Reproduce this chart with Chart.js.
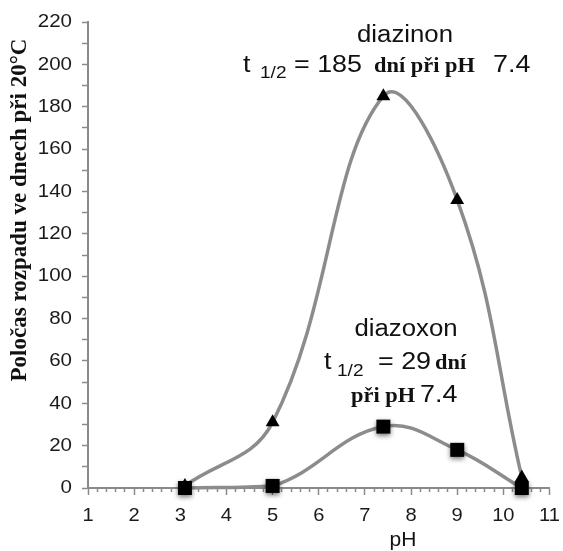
<!DOCTYPE html>
<html>
<head>
<meta charset="utf-8">
<script src="https://cdn.jsdelivr.net/npm/chart.js@4.4.1/dist/chart.umd.min.js"></script>
<style>
  html, body { margin: 0; padding: 0; background: #fff; }
  canvas { display: block; }
</style>
</head>
<body>
<canvas id="chart" width="563" height="551"></canvas>
<script>
// data
const phPoints = [3.1, 5, 7.4, 9, 10.4];
const diazinonDays = [1, 31, 185, 136, 5];
const diazoxonDays = [0, 1, 29, 18, 0];
const xTickLabels = [1, 2, 3, 4, 5, 6, 7, 8, 9, 10, 11];
const yTickLabels = [0, 20, 40, 60, 80, 100, 120, 140, 160, 180, 200, 220];

const AXIS_GREY = '#8a8a8a';
const LINE_GREY = '#8c8c8c';
const SANS = '"Liberation Sans", Arial, sans-serif';
const SERIF = '"Liberation Serif", "Times New Roman", serif';
const SX = 1.12; // the text in the picture is a bit wide

function toXY(xs, ys) {
    return xs.map(function (x, i) { return { x: x, y: ys[i] }; });
}

function isLabel(list, v) {
    return list.some(function (t) { return Math.abs(t - v) < 1e-6; });
}

// black square with a soft shadow, used as point style
function shadowSquare() {
    const c = document.createElement('canvas');
    c.width = 30;
    c.height = 30;
    const g = c.getContext('2d');
    g.shadowColor = 'rgba(0,0,0,0.55)';
    g.shadowBlur = 5;
    g.shadowOffsetY = 2;
    g.fillStyle = '#000';
    g.fillRect(8, 8, 14, 14);
    return c;
}

// text piece: [text, font, x, baseline, align, stretch]
function drawPieces(ctx, pieces) {
    pieces.forEach(function (p) {
        ctx.save();
        ctx.font = p[1];
        ctx.textAlign = p[4] || 'left';
        ctx.translate(p[2], p[3]);
        ctx.scale(p[5] || SX, 1);
        ctx.fillText(p[0], 0, 0);
        ctx.restore();
    });
}

const textPlugin = {
    id: 'texts',
    afterDraw: function (chart) {
        const ctx = chart.ctx;
        const xs = chart.scales.x;
        const ys = chart.scales.y;
        ctx.save();
        ctx.fillStyle = '#1a1a1a';

        // tick labels, placed with the library's scales
        ctx.textBaseline = 'middle';
        drawPieces(ctx, xTickLabels.map(function (v) {
            return [String(v), '19px ' + SANS, xs.getPixelForValue(v), xs.top + 28, 'center', 1.06];
        }));
        drawPieces(ctx, yTickLabels.map(function (v) {
            return [String(v), '19px ' + SANS, ys.right - 16, ys.getPixelForValue(v), 'right', 1.08];
        }));

        ctx.fillStyle = '#111';
        ctx.textBaseline = 'alphabetic';

        // diazinon note
        drawPieces(ctx, [
            ['diazinon', '23px ' + SANS, 405, 42, 'center'],
            ['t', '24px ' + SANS, 243, 72],
            ['1/2', '17px ' + SANS, 260, 78],
            ['= 185', '24px ' + SANS, 294, 72],
            ['dní při pH', 'bold 20px ' + SERIF, 374, 72],
            ['7.4', '24px ' + SANS, 493, 72]
        ]);

        // diazoxon note
        drawPieces(ctx, [
            ['diazoxon', '23px ' + SANS, 406, 336, 'center'],
            ['t', '24px ' + SANS, 324, 369],
            ['1/2', '17px ' + SANS, 337, 376],
            ['= 29', '24px ' + SANS, 378, 369],
            ['dní', 'bold 20px ' + SERIF, 435, 369],
            ['při pH', 'bold 20px ' + SERIF, 351, 402],
            ['7.4', '24px ' + SANS, 420, 402]
        ]);

        // axis titles
        drawPieces(ctx, [['pH', '21px ' + SANS, 403, 546, 'center', 1]]);

        ctx.translate(26, 210);
        ctx.rotate(-Math.PI / 2);
        ctx.textAlign = 'center';
        ctx.font = 'bold 23px ' + SERIF;
        ctx.fillText('Poločas rozpadu ve dnech při 20°C', 0, 0);
        ctx.restore();
    }
};

const ctx = document.getElementById('chart').getContext('2d');

new Chart(ctx, {
    type: 'line',
    data: {
        datasets: [{
            label: 'diazoxon',
            data: toXY(phPoints, diazoxonDays),
            borderColor: LINE_GREY,
            borderWidth: 3.5,
            tension: 0.4,
            pointStyle: shadowSquare(),
            pointRadius: 10,
            fill: false,
            order: 0
        }, {
            label: 'diazinon',
            data: toXY(phPoints, diazinonDays),
            borderColor: LINE_GREY,
            borderWidth: 3.5,
            tension: 0.4,
            pointStyle: 'triangle',
            pointRadius: 8,
            pointBackgroundColor: '#000',
            pointBorderColor: '#000',
            pointBorderWidth: 0,
            fill: false,
            order: 1
        }]
    },
    options: {
        responsive: false,
        animation: false,
        clip: false,
        layout: { padding: { top: 22, right: 9, left: 0, bottom: 0 } },
        plugins: {
            legend: { display: false },
            tooltip: { enabled: false }
        },
        scales: {
            x: {
                type: 'linear',
                min: 1,
                max: 11,
                afterFit: function (scale) { scale.height = 63; },
                border: { color: AXIS_GREY, width: 2 },
                grid: {
                    drawOnChartArea: false,
                    color: AXIS_GREY,
                    tickLength: 7,
                    tickWidth: 1.5,
                    // short marks between the whole pH values
                    tickBorderDash: function (c) {
                        return c.tick && isLabel(xTickLabels, c.tick.value) ? [] : [3, 20];
                    }
                },
                ticks: {
                    stepSize: 0.2,
                    autoSkip: false,
                    maxRotation: 0,
                    callback: function () { return ''; }
                }
            },
            y: {
                min: 0,
                max: 220,
                afterFit: function (scale) { scale.width = 88; },
                border: { color: AXIS_GREY, width: 2 },
                grid: {
                    drawOnChartArea: false,
                    color: AXIS_GREY,
                    tickLength: 6,
                    tickWidth: 1.5
                },
                ticks: {
                    stepSize: 10,
                    autoSkip: false,
                    callback: function () { return ''; }
                }
            }
        }
    },
    plugins: [textPlugin]
});
</script>
</body>
</html>
